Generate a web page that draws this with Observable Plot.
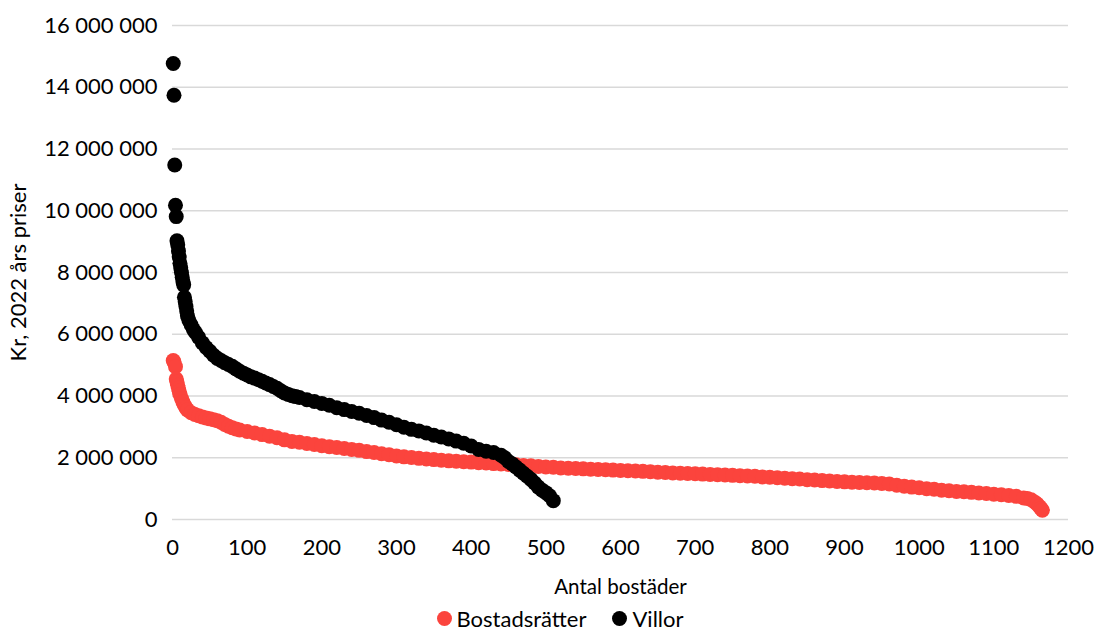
<!DOCTYPE html>
<html><head><meta charset="utf-8">
<script src="https://cdn.jsdelivr.net/npm/d3@7"></script>
<script src="https://cdn.jsdelivr.net/npm/@observablehq/plot@0.6"></script>
<style>
body{margin:0;background:#fff;font-family:Lato,"Open Sans",sans-serif;}
#legend{display:flex;justify-content:center;align-items:center;height:31px;font-size:22px;color:#000;padding-left:26px;padding-top:3px;}
.item{display:flex;align-items:center;margin:0 13px;}
.sw{width:15px;height:15px;border-radius:50%;display:inline-block;margin-right:5px;}
</style></head><body>
<div id="chart"></div>
<div id="legend"></div>
<script>
// Series: Bostadsrätter (rank, price in million kr)
const brfRank = [1,2,4,5,6,7,8,9,10,12,14,16,18,20,25,30,35,40,45,50,55,60,65,70,75,80,85,90,100,110,120,130,140,150,160,170,180,190,200,210,220,230,240,250,260,270,280,290,300,310,320,330,340,350,360,370,380,390,400,410,420,430,440,450,460,470,480,490,500,510,520,530,540,550,560,570,580,590,600,610,620,630,640,650,660,670,680,690,700,710,720,730,740,750,760,770,780,790,800,810,820,830,840,850,860,870,880,890,900,910,920,930,940,950,960,970,980,990,1000,1010,1020,1030,1040,1050,1060,1070,1080,1090,1100,1110,1120,1130,1140,1145,1150,1155,1158,1161,1163,1165];
const brfPriceM = [5.15,5.10,4.95,4.55,4.45,4.35,4.25,4.15,4.05,3.92,3.80,3.70,3.62,3.55,3.46,3.40,3.36,3.32,3.29,3.26,3.23,3.20,3.15,3.08,3.02,2.97,2.93,2.90,2.85,2.80,2.75,2.70,2.65,2.58,2.53,2.50,2.46,2.43,2.39,2.36,2.33,2.30,2.27,2.24,2.20,2.17,2.13,2.10,2.06,2.03,2.01,1.98,1.96,1.94,1.92,1.90,1.89,1.87,1.86,1.84,1.83,1.81,1.80,1.78,1.77,1.75,1.74,1.72,1.70,1.69,1.67,1.66,1.65,1.64,1.63,1.62,1.61,1.60,1.59,1.58,1.57,1.56,1.55,1.53,1.52,1.51,1.50,1.49,1.48,1.47,1.46,1.45,1.44,1.43,1.42,1.41,1.40,1.38,1.37,1.35,1.34,1.32,1.31,1.29,1.28,1.26,1.25,1.23,1.22,1.21,1.20,1.19,1.18,1.17,1.15,1.11,1.08,1.05,1.03,1.00,0.98,0.95,0.93,0.91,0.90,0.88,0.86,0.84,0.82,0.80,0.78,0.75,0.70,0.68,0.64,0.56,0.50,0.42,0.36,0.30];
// Series: Villor (rank, price in million kr)
const villaRank = [1,2,3,4,5,6,7,8,9,10,11,12,13,14,15,16,17,18,19,20,22,25,28,31,35,40,45,50,55,60,65,70,75,80,85,90,95,100,105,110,115,120,125,130,135,140,145,150,155,160,165,170,180,190,200,210,220,230,240,250,260,270,280,290,300,310,320,330,340,350,360,370,380,390,400,410,420,430,440,445,450,455,460,465,470,475,480,485,490,495,500,505,510];
const villaPriceM = [14.77,13.74,11.48,10.18,9.81,9.03,8.90,8.70,8.50,8.30,8.15,8.00,7.85,7.70,7.60,7.20,7.05,6.90,6.75,6.60,6.45,6.30,6.15,6.05,5.90,5.72,5.57,5.45,5.32,5.22,5.15,5.08,5.02,4.96,4.88,4.80,4.74,4.68,4.62,4.58,4.53,4.48,4.42,4.37,4.31,4.25,4.17,4.10,4.05,4.01,3.98,3.95,3.88,3.82,3.76,3.70,3.62,3.56,3.50,3.44,3.37,3.30,3.22,3.15,3.07,2.99,2.92,2.87,2.80,2.73,2.67,2.61,2.54,2.47,2.38,2.27,2.21,2.17,2.08,2.00,1.88,1.80,1.70,1.60,1.50,1.40,1.30,1.18,1.05,0.95,0.87,0.77,0.61];

const seriesNames = ["Bostadsrätter","Villor"];
const xTicks = [0,100,200,300,400,500,600,700,800,900,1000,1100,1200];
const yTicks = [0,2e6,4e6,6e6,8e6,10e6,12e6,14e6,16e6];
const xLabel = "Antal bostäder";
const yLabel = "Kr, 2022 års priser";

const colors = ["#fb443d","#000000"];
const brf = brfRank.map((r,i)=>({rank:r, price:brfPriceM[i]*1e6}));
const villa = villaRank.map((r,i)=>({rank:r, price:villaPriceM[i]*1e6}));
const fmtY = d => d3.format(",")(d).replace(/,/g," ");
const fmtX = d => String(d);

const chart = Plot.plot({
  width:1094, height:600,
  marginLeft:172, marginRight:26, marginTop:25, marginBottom:81,
  x:{domain:[0,1200]},
  y:{domain:[0,16e6]},
  style:{fontFamily:"Lato, 'Open Sans', sans-serif", fontSize:"22px", color:"#000", background:"#fff"},
  marks:[
    Plot.gridY(yTicks,{stroke:"#d9d9d9", strokeOpacity:1, strokeWidth:1.3}),
    Plot.axisY(yTicks,{tickSize:0, tickPadding:15, tickFormat:fmtY, label:yLabel, labelAnchor:"center", labelArrow:"none", labelOffset:162, fontSize:22}),
    Plot.axisX(xTicks,{tickSize:0, tickPadding:20, tickFormat:fmtX, label:null, fontSize:22}),
    Plot.axisX({tickSize:0, ticks:[], label:xLabel, labelAnchor:"center", labelArrow:"none", labelOffset:74, fontSize:20.6}),
    Plot.dot(brf,{x:"rank", y:"price", r:7.5, fill:colors[0], stroke:null}),
    Plot.dot(villa,{x:"rank", y:"price", r:7.5, fill:colors[1], stroke:null})
  ]
});
document.getElementById("chart").appendChild(chart);
const lg = document.getElementById("legend");
seriesNames.forEach((n,i)=>{
  const it = document.createElement("span"); it.className="item";
  const sw = document.createElement("span"); sw.className="sw"; sw.style.background=colors[i];
  it.appendChild(sw); it.appendChild(document.createTextNode(n)); lg.appendChild(it);
});
</script>
</body></html>
